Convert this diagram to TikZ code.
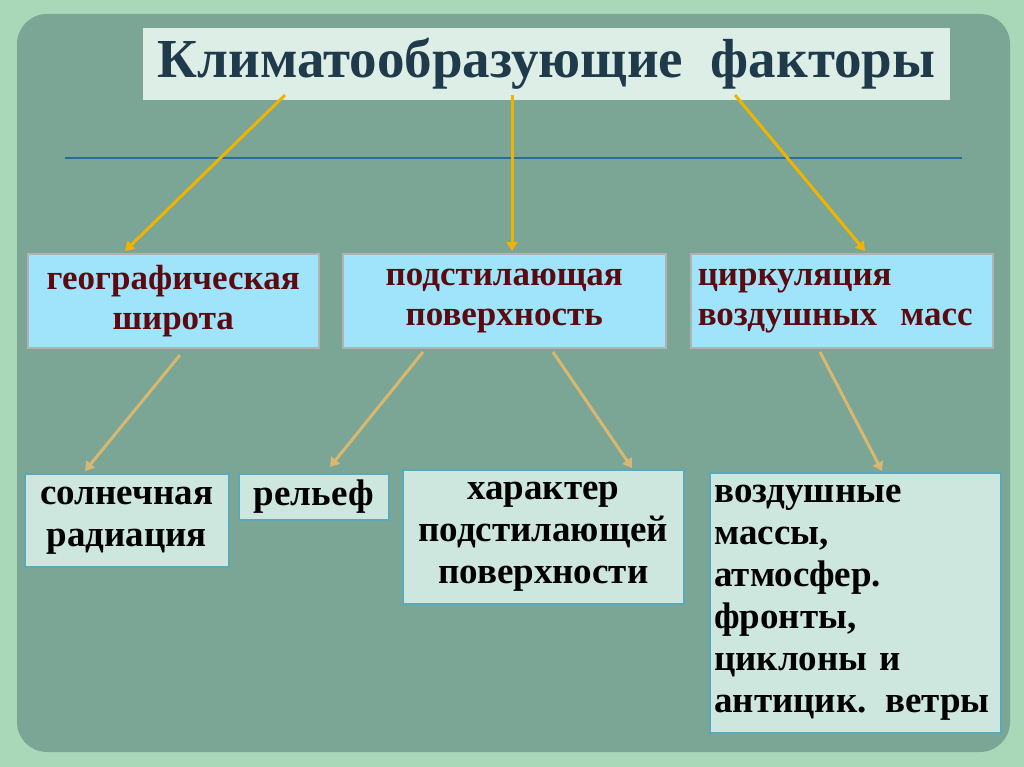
\documentclass[tikz,border=0pt]{standalone}
\usepackage{fontspec}
\setmainfont{Liberation Serif}
\definecolor{outerg}{HTML}{A8D8B8}
\definecolor{innerg}{HTML}{7BA595}
\definecolor{titlebg}{HTML}{DCEEE6}
\definecolor{titlefg}{HTML}{1F3A4A}
\definecolor{bluebg}{HTML}{9FE4FA}
\definecolor{redfg}{HTML}{5A0A10}
\definecolor{mintbg}{HTML}{CDE6DE}
\definecolor{mintbd}{HTML}{5AA8B8}
\definecolor{arrY}{HTML}{F0B400}
\definecolor{arrT}{HTML}{D8B870}
\definecolor{lineb}{HTML}{286E96}
\usetikzlibrary{arrows.meta}
\tikzset{
 topbox/.style={draw=gray!60,line width=1.5pt,fill=bluebg,text=redfg,font=\fontsize{35}{40}\selectfont\bfseries,align=center,inner sep=0pt},
 lowbox/.style={draw=mintbd,line width=1.5pt,fill=mintbg,text=black,font=\fontsize{37}{42}\selectfont\bfseries,inner sep=0pt},
 ya/.style={draw=arrY,line width=3pt,-{Triangle[width=11pt,length=9pt]}},
 ta/.style={draw=arrT,line width=3pt,-{Triangle[width=11pt,length=9pt]}},
}
\begin{document}
\begin{tikzpicture}[x=1pt,y=-1pt]
\fill[outerg] (0,0) rectangle (1024,767);
\fill[innerg,rounded corners=30pt] (17,14) rectangle (1010,752);
\node[fill=titlebg,minimum width=807pt,minimum height=72pt,text=titlefg,font=\fontsize{55}{60}\selectfont\bfseries,anchor=north west] (t) at (143,28) {Климатообразующие\ \ факторы};
\draw[lineb,line width=1.2pt] (65,158) -- (962,158);
\node[topbox,minimum width=291pt,minimum height=94pt,anchor=north west] (a) at (27,253) {географическая\\широта};
\node[topbox,minimum width=323pt,minimum height=94pt,anchor=north west] (b) at (342,253) {подстилающая\\поверхность};
\node[topbox,minimum width=302pt,minimum height=94pt,anchor=north west,align=left,text width=288pt] (c) at (690,253) {циркуляция\\воздушных\ \ масс};
\node[lowbox,minimum width=204pt,minimum height=93pt,anchor=north west,align=center] (d) at (24,473) {солнечная\\радиация};
\node[lowbox,minimum width=150pt,minimum height=46pt,anchor=north west] (e) at (238,473) {рельеф};
\node[lowbox,minimum width=281pt,minimum height=134pt,anchor=north west,align=center] (f) at (402,469) {характер\\подстилающей\\поверхности};
\node[lowbox,minimum width=291pt,minimum height=260pt,anchor=north west,align=left,text width=282pt] (g) at (709,472) {воздушные\\массы,\\атмосфер.\\фронты,\\циклоны и\\антицик. ветры};
\coordinate (t1) at (285,95); \coordinate (t2) at (512,95); \coordinate (t3) at (735,95);
\draw[ya] (t1) -- (125,251);
\draw[ya] (t2) -- (512,251);
\draw[ya] (t3) -- (865,251);
\coordinate (a1) at (180,355); \coordinate (b1) at (423,352); \coordinate (b2) at (553,352); \coordinate (c1) at (820,352);
\draw[ta] (a1) -- (85,471);
\draw[ta] (b1) -- (330,467);
\draw[ta] (b2) -- (632,468);
\draw[ta] (c1) -- (882,471);
\end{tikzpicture}
\end{document}
